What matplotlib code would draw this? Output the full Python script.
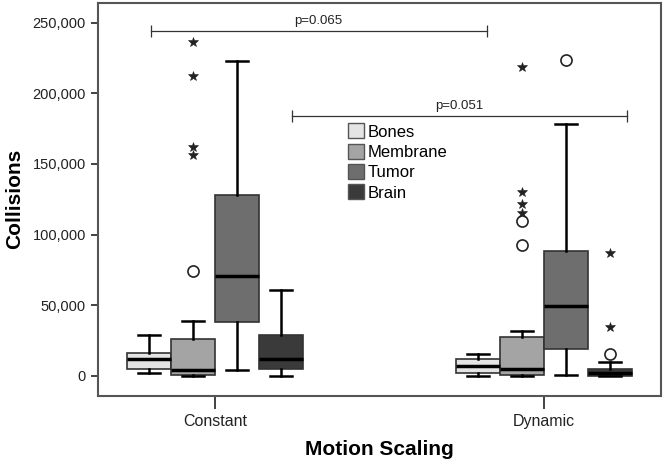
import matplotlib
matplotlib.use('Agg')
from matplotlib import pyplot as plt
from matplotlib import patches
from matplotlib.ticker import FuncFormatter
import numpy as np

plt.rcParams['font.family'] = ['Liberation Sans', 'DejaVu Sans']

groups = ['Constant', 'Dynamic']
tissues = ['Bones', 'Membrane', 'Tumor', 'Brain']
colors = ['#e4e4e4', '#a4a4a4', '#6e6e6e', '#3a3a3a']

# box stats per tissue: [Constant, Dynamic]
whislo = {'Bones': [1900, 0], 'Membrane': [0, 0], 'Tumor': [4200, 700], 'Brain': [0, 0]}
q1 = {'Bones': [4700, 1900], 'Membrane': [500, 500], 'Tumor': [38000, 18900], 'Brain': [4700, 0]}
med = {'Bones': [11800, 7300], 'Membrane': [3800, 4700], 'Tumor': [70800, 49600], 'Brain': [12000, 1900]}
q3 = {'Bones': [16000, 11800], 'Membrane': [26200, 27400], 'Tumor': [127900, 88700], 'Brain': [29000, 5200]}
whishi = {'Bones': [29000, 15300], 'Membrane': [38900, 31600], 'Tumor': [223000, 178200], 'Brain': [61100, 9700]}

# outliers (circles) and extreme values (stars)
circles = {'Bones': [[], []], 'Membrane': [[73900], [109500, 92700]],
           'Tumor': [[], [223200]], 'Brain': [[], [15600]]}
stars = {'Bones': [[], []], 'Membrane': [[236000, 212400, 162300, 156000], [218300, 129800, 121800, 115200]],
         'Tumor': [[], []], 'Brain': [[], [86900, 34900]]}

# significance brackets
brackets = [(-0.195, 0.826, 244300, 'p=0.065'), (0.233, 1.252, 184000, 'p=0.051')]

fig = plt.figure(figsize=(6.65, 4.68), dpi=100)
ax = fig.add_axes([0.147, 0.154, 0.847, 0.84])

offsets = np.array([-0.2, -0.067, 0.067, 0.2])
bw = 0.133
edge = '#333333'

for i, t in enumerate(tissues):
    stats = []
    pos = []
    for g in range(len(groups)):
        stats.append({'med': med[t][g], 'q1': q1[t][g], 'q3': q3[t][g],
                      'whislo': whislo[t][g], 'whishi': whishi[t][g], 'fliers': []})
        pos.append(g + offsets[i])
    ax.bxp(stats, positions=pos, widths=bw, showfliers=False, patch_artist=True,
           boxprops=dict(facecolor=colors[i], edgecolor=edge, linewidth=1.2),
           medianprops=dict(color='black', linewidth=2.5),
           whiskerprops=dict(color='black', linewidth=1.8),
           capprops=dict(color='black', linewidth=1.8), capwidths=bw / 2)
    for g in range(len(groups)):
        cy = circles[t][g]
        sy = stars[t][g]
        if cy:
            ax.plot([g + offsets[i]] * len(cy), cy, 'o', mfc='white', mec='#222222', ms=8, mew=1.2)
        if sy:
            ax.plot([g + offsets[i]] * len(sy), sy, '*', color='#222222', ms=7, mew=0.4)

for x0, x1, y, label in brackets:
    ax.plot([x0, x1], [y, y], color='#333333', lw=0.9)
    ax.plot([x0, x1], [y, y], linestyle='none', marker='|', color='#333333', ms=8, mew=0.9)
    ax.text((x0 + x1) / 2, y + 2500, label, ha='center', va='bottom', fontsize=9.5, color='#222222')

ax.set_xlim(-0.356, 1.356)
ax.set_ylim(-14200, 264000)
ax.set_xticks(range(len(groups)))
ax.set_xticklabels(groups, fontsize=11.5, color='#222222')
ax.set_yticks(np.arange(0, 250001, 50000))
ax.yaxis.set_major_formatter(FuncFormatter(lambda v, p: '{:,.0f}'.format(v)))
ax.tick_params(axis='y', labelsize=10.5, length=5, width=1.2, colors='#222222')
ax.tick_params(axis='x', length=9, width=1.2, pad=4, colors='#222222')
for s in ax.spines.values():
    s.set_color('#555555')
    s.set_linewidth(1.5)

ax.set_xlabel('Motion Scaling', fontsize=15, fontweight='bold', labelpad=8)
ax.set_ylabel('Collisions', fontsize=15, fontweight='bold', labelpad=6)

handles = [patches.Patch(facecolor=c, edgecolor='#555555', label=t) for c, t in zip(colors, tissues)]
ax.legend(handles=handles, loc='upper left', bbox_to_anchor=(0.432, 0.71), frameon=False,
          fontsize=12, handlelength=1.0, handleheight=1.0, handletextpad=0.2, labelspacing=0.25,
          borderaxespad=0)

fig.savefig('out.png', dpi=100)
